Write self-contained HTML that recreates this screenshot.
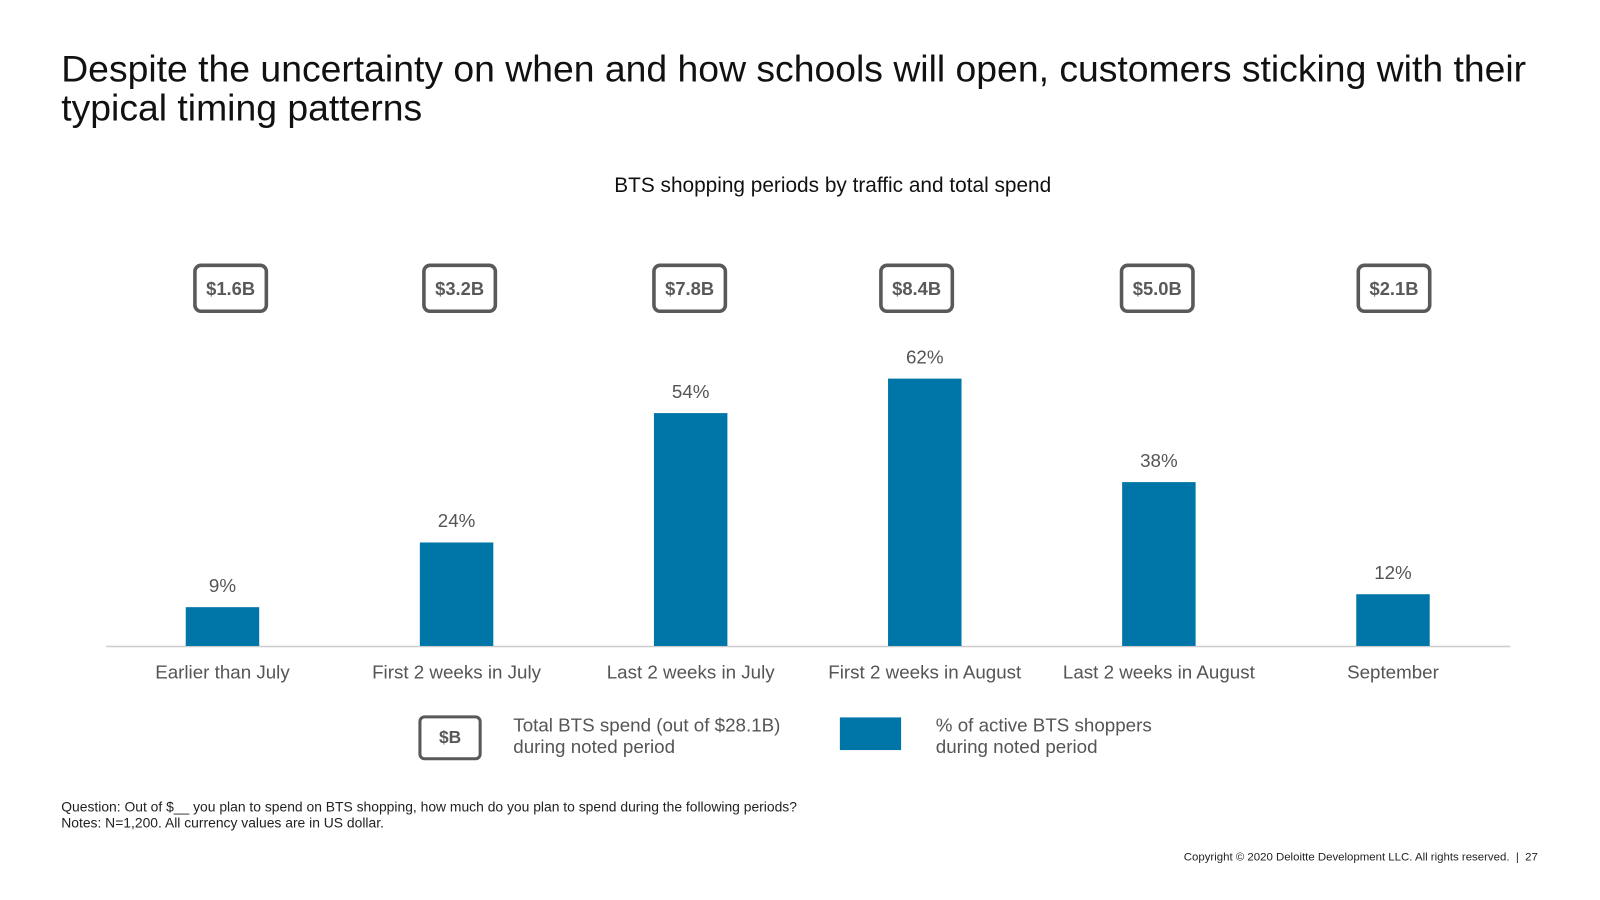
<!DOCTYPE html>
<html><head><meta charset="utf-8"><style>
body{margin:0;width:1600px;height:900px;background:#fff;font-family:"Liberation Sans",sans-serif;overflow:hidden;position:relative}
#wrap{position:absolute;left:0;top:0;width:1570px;height:882px;transform:scale(1.0205);transform-origin:0 0}
.t{position:absolute;white-space:nowrap}
</style></head><body>
<div id="wrap">
<div class="t" style="left:60px;top:49px;font-size:36.6px;line-height:38px;color:#111;font-weight:300">Despite the uncertainty on when and how schools will open, customers sticking with their<br>typical timing patterns</div>
<div class="t" style="left:0;width:1632px;text-align:center;top:171px;font-size:20.4px;color:#111">BTS shopping periods by traffic and total spend</div>
<svg id="chart" width="1570" height="882" style="position:absolute;left:0;top:0"></svg>
<div style="position:absolute;left:410px;top:701px;width:56px;height:38px;border:3px solid #58595b;border-radius:6px;text-align:center;line-height:38px;font-weight:bold;font-size:17px;color:#58595b">$B</div>
<div class="t" style="left:503px;top:700px;font-size:18.4px;line-height:21px;color:#555">Total BTS spend (out of $28.1B)<br>during noted period</div>
<div style="position:absolute;left:823px;top:703px;width:60px;height:32px;background:#0076a8"></div>
<div class="t" style="left:917px;top:700px;font-size:18.4px;line-height:21px;color:#555">% of active BTS shoppers<br>during noted period</div>
<div class="t" style="left:60px;top:783px;font-size:13.6px;line-height:16px;color:#222">Question: Out of $__ you plan to spend on BTS shopping, how much do you plan to spend during the following periods?<br>Notes: N=1,200. All currency values are in US dollar.</div>
<div class="t" style="left:1160px;top:834px;font-size:11.2px;color:#222">Copyright © 2020 Deloitte Development LLC. All rights reserved. &nbsp;| &nbsp;27</div>
</div>
<script>
const categories=["Earlier than July","First 2 weeks in July","Last 2 weeks in July","First 2 weeks in August","Last 2 weeks in August","September"];
const shares=[9,24,54,62,38,12];
const spend=["$1.6B","$3.2B","$7.8B","$8.4B","$5.0B","$2.1B"];
const NS="http://www.w3.org/2000/svg";
const svg=document.getElementById('chart');
const base=633,pxPer=262/62,x0=218,step=229.4,bw=72;
const boxShift=[8,3,-1,-8,-1.6,1];
const xS=i=>x0+i*step, yS=v=>base-v*pxPer;
function mk(t,a){const e=document.createElementNS(NS,t);for(const k in a)e.setAttribute(k,a[k]);svg.appendChild(e);return e;}
const ax=mk('line',{x1:104,x2:1480,y1:base+0.5,y2:base+0.5,stroke:'#ccc','stroke-width':1.5});


categories.forEach((c,i)=>{
  const cx=xS(i);
  const r=mk('rect',{x:cx-bw/2,y:yS(shares[i]),width:bw,height:shares[i]*pxPer,fill:'#0076a8'});
  
  
  const v=mk('text',{x:cx,y:yS(shares[i])-15,'text-anchor':'middle','font-size':18.4,fill:'#555'});
  v.textContent=shares[i]+'%';
  
  
  const l=mk('text',{x:cx,y:665,'text-anchor':'middle','font-size':18.4,fill:'#555'});
  l.textContent=c;
  
  
  const bx=cx+boxShift[i];
  const b=mk('rect',{x:bx-35,y:260,width:70,height:45,rx:6,fill:'#fff',stroke:'#58595b','stroke-width':3.5});
  
  
  const s=mk('text',{x:bx,y:289,'text-anchor':'middle','font-size':18,'font-weight':'bold',fill:'#58595b'});
  s.textContent=spend[i];
  
  
});
</script>
</body></html>
